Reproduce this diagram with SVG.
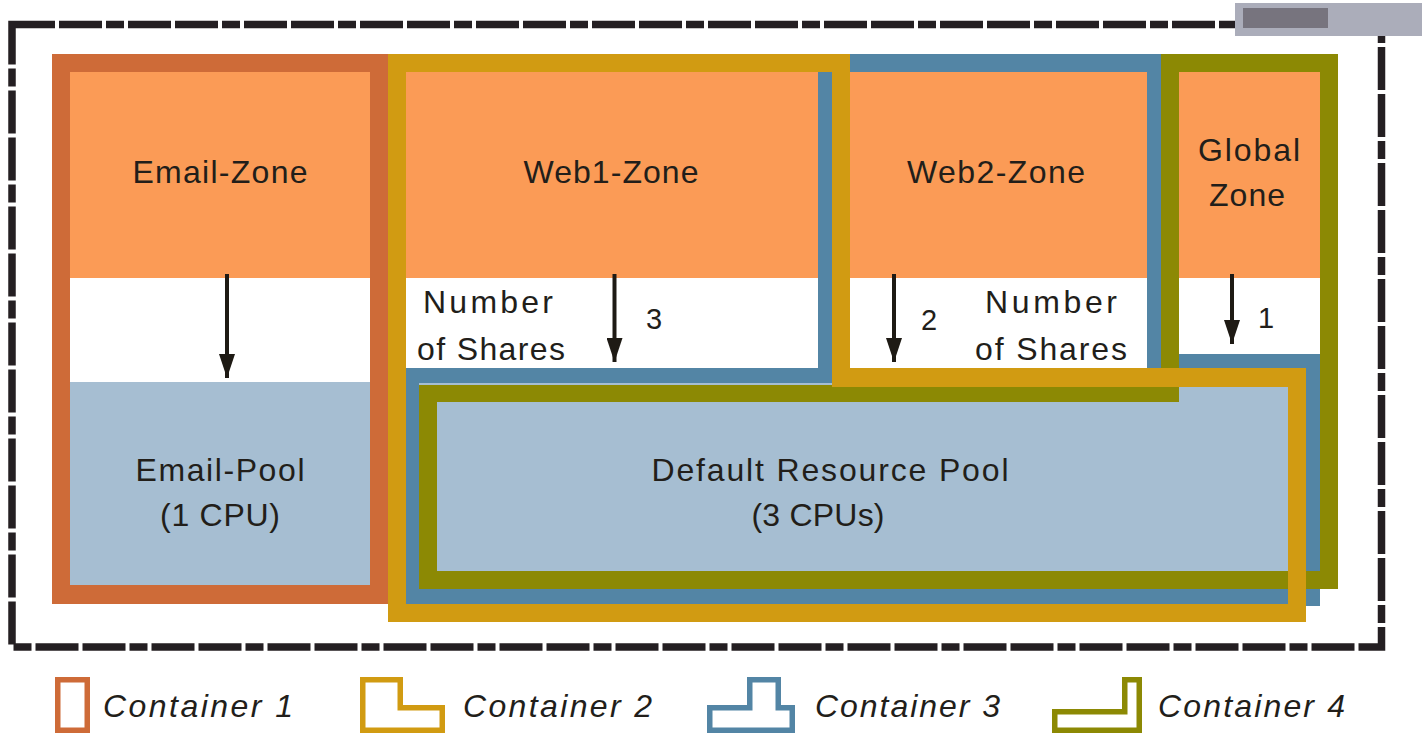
<svg xmlns="http://www.w3.org/2000/svg" width="1428" height="742" viewBox="0 0 1428 742">
<defs>
<style>
.zone{fill:#FB9B56}
.pool{fill:#A6BED2}
.c1{fill:#CE6B38;fill-rule:evenodd}
.c2{fill:#D19B12;fill-rule:evenodd}
.c3{fill:#5385A5;fill-rule:evenodd}
.c4{fill:#8C8904;fill-rule:evenodd}
.t{font-family:"Liberation Sans",Arial,sans-serif;font-size:32px;fill:#221E1A;text-anchor:middle}
.num{font-family:"Liberation Sans",Arial,sans-serif;font-size:29px;fill:#221E1A;text-anchor:middle}
.leg{font-family:"Liberation Sans",Arial,sans-serif;font-size:32px;font-style:italic;fill:#221E1A}
.arrow{stroke:#1E1A14;stroke-width:4;fill:none;marker-end:url(#ah)}
.icon{fill:#fff;stroke-width:5.5;stroke-linejoin:miter}
</style>
<marker id="ah" markerUnits="userSpaceOnUse" viewBox="0 0 24 16" markerWidth="24" markerHeight="16" refX="24" refY="8" orient="auto">
<path d="M0,0 L24,8 L0,16 Z" fill="#1E1A14"/>
</marker>
</defs>
<rect width="1428" height="742" fill="#fff"/>

<g id="frame">
<rect x="12" y="24.5" width="1369.5" height="622.5" fill="none" stroke="#241F22" stroke-width="7.5" stroke-dasharray="43 4 43 4 18 4"/>
</g>

<g id="watermark">
<rect x="1235" y="3" width="187" height="33" fill="#ABADBA"/>
<rect x="1243" y="8" width="85" height="20" fill="#77747E"/>
</g>

<g id="default-resource-pool">
<rect class="pool" x="406" y="368" width="900" height="254"/>
</g>
<g id="email-zone"><rect class="zone" x="70" y="72" width="300" height="206"/></g>
<g id="email-pool"><rect class="pool" x="70" y="382" width="300" height="203"/></g>
<g id="web1-zone"><rect class="zone" x="406" y="72" width="412" height="206"/></g>
<g id="web2-zone"><rect class="zone" x="850" y="72" width="297" height="206"/></g>
<g id="global-zone"><rect class="zone" x="1179" y="72" width="141" height="206"/></g>

<g id="container-3">
<path class="c3" d="M818,54 H1162 V354 H1320 V606 H406 V368 H818 Z M832,72 V383 H419 V589 H1306 V368 H1147 V72 Z"/>
</g>
<g id="container-4">
<path class="c4" d="M1161,54 H1338 V589 H419 V385 H1161 Z M1179,72 V402 H437 V571 H1320 V72 Z"/>
</g>
<g id="container-2">
<path class="c2" d="M388,54 H850 V368 H1306 V622 H388 Z M406,72 V604 H1288 V387 H832 V72 Z"/>
</g>
<g id="container-1">
<path class="c1" d="M52,54 H388 V604 H52 Z M70,72 V585 H370 V72 Z"/>
</g>

<g id="labels">
<text class="t" x="220" y="183" textLength="175" lengthAdjust="spacing">Email-Zone</text>
<text class="t" x="611" y="183" textLength="175" lengthAdjust="spacing">Web1-Zone</text>
<text class="t" x="996" y="183" textLength="178" lengthAdjust="spacing">Web2-Zone</text>
<text class="t" x="1249" y="161" textLength="102" lengthAdjust="spacing">Global</text>
<text class="t" x="1247" y="206" textLength="76" lengthAdjust="spacing">Zone</text>
<text class="t" x="488" y="313" textLength="130" lengthAdjust="spacing">Number</text>
<text class="t" x="491" y="360" textLength="148" lengthAdjust="spacing">of Shares</text>
<text class="t" x="1051" y="313" textLength="132" lengthAdjust="spacing">Number</text>
<text class="t" x="1051" y="360" textLength="152" lengthAdjust="spacing">of Shares</text>
<text class="num" x="654" y="329">3</text>
<text class="num" x="929" y="330">2</text>
<text class="num" x="1266" y="328">1</text>
<text class="t" x="220" y="481" textLength="169" lengthAdjust="spacing">Email-Pool</text>
<text class="t" x="220" y="526" textLength="120" lengthAdjust="spacing">(1 CPU)</text>
<text class="t" x="830" y="481" textLength="357" lengthAdjust="spacing">Default Resource Pool</text>
<text class="t" x="818" y="526" textLength="133" lengthAdjust="spacing">(3 CPUs)</text>
</g>

<g id="connectors">
<line class="arrow" x1="227" y1="274" x2="227" y2="378"/>
<line class="arrow" x1="614.5" y1="274" x2="614.5" y2="362"/>
<line class="arrow" x1="894" y1="274" x2="894" y2="362"/>
<line class="arrow" x1="1232" y1="274" x2="1232" y2="344"/>
</g>

<g id="legend">
<g id="legend-c1">
<rect class="icon" x="57.75" y="679.75" width="29.5" height="50.5" stroke="#CE6B38"/>
<text class="leg" x="103" y="717" textLength="190" lengthAdjust="spacing">Container 1</text>
</g>
<g id="legend-c2">
<path class="icon" d="M362.75,679.75 H400.25 V707.75 H442.25 V730.25 H362.75 Z" stroke="#D19B12"/>
<text class="leg" x="463" y="717" textLength="189" lengthAdjust="spacing">Container 2</text>
</g>
<g id="legend-c3">
<path class="icon" d="M749.75,679.75 H778.25 V707.75 H792.25 V730.25 H709.75 V707.75 H749.75 Z" stroke="#5385A5"/>
<text class="leg" x="815" y="717" textLength="185" lengthAdjust="spacing">Container 3</text>
</g>
<g id="legend-c4">
<path class="icon" d="M1124.75,679.75 H1139.25 V730.25 H1054.75 V711.75 H1124.75 Z" stroke="#8C8904"/>
<text class="leg" x="1158" y="717" textLength="187" lengthAdjust="spacing">Container 4</text>
</g>
</g>
</svg>
